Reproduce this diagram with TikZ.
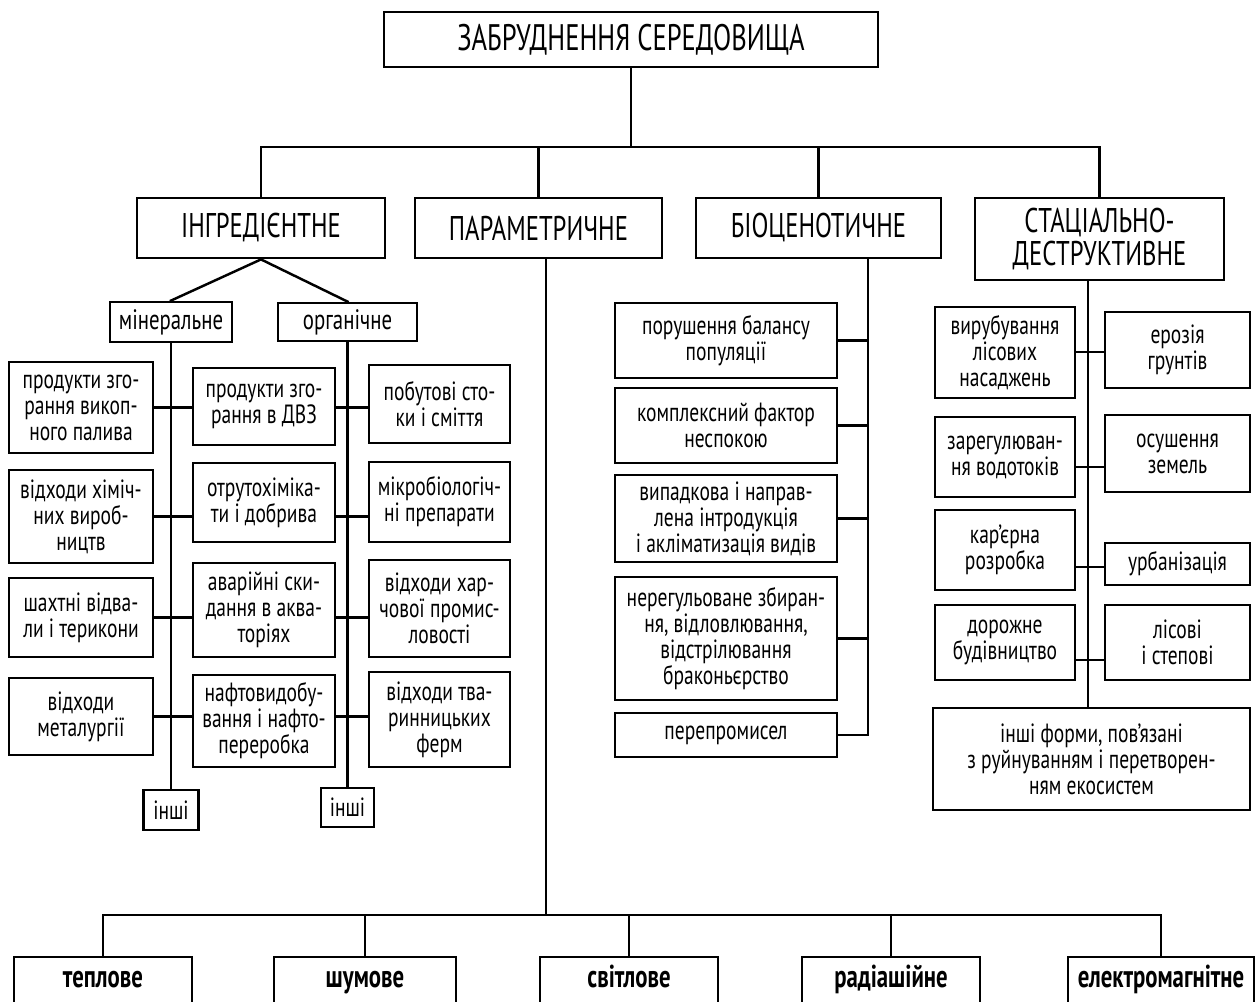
\documentclass[tikz,border=0pt]{standalone}
\usepackage{fontspec}
\setmainfont{PT Sans}
\newfontfamily\bodyfont[FakeStretch=0.74]{PT Sans}
\newfontfamily\headfont[FakeStretch=0.72]{PT Sans}
\usetikzlibrary{calc}

\begin{document}
\begin{tikzpicture}[x=0.02cm, y=-0.02cm,
	box/.style={draw, line width=1.6pt, align=center, inner sep=0pt,
		font=\bodyfont\fontsize{15}{14.8}\selectfont},
	headbox/.style={box, font=\headfont\fontsize{19.5}{18.5}\selectfont},
	subbox/.style={box, font=\bodyfont\fontsize{16}{18}\selectfont},
	lowbox/.style={box, text height=1.6ex, text depth=0.3ex,
		font=\headfont\bfseries\fontsize{18}{20}\selectfont},
	dims/.style 2 args={minimum width=#1*0.02cm, minimum height=#2*0.02cm},
	wire/.style={line width=1.4pt, line cap=rect}]

	% ---- frame

	\fill[white] (0,0) rectangle (1258,1001);
	\useasboundingbox (0,0) rectangle (1258,1001);

	% ---- coordinates

	\coordinate (TB) at (0,147);
	\coordinate (BB) at (0,915);
	\coordinate (PT) at (546,258);
	\coordinate (BT) at (868,258);
	\coordinate (ST) at (1088,280);

	\coordinate (s1) at (0,352);
	\coordinate (s2) at (0,467);
	\coordinate (s3) at (0,567);
	\coordinate (s4) at (0,660);

	% ---- root and kinds

	\node[headbox, dims={494}{55}, font=\headfont\fontsize{21}{22}\selectfont] (Z) at (631,39.5) {ЗАБРУДНЕННЯ СЕРЕДОВИЩА};

	\node[headbox, dims={248}{60}] (I) at (261,228) {ІНГРЕДІЄНТНЕ};
	\node[headbox, dims={247}{60}] (P) at (538.5,228) {ПАРАМЕТРИЧНЕ};
	\node[headbox, dims={245}{60}] (B) at (818.5,228) {БІОЦЕНОТИЧНЕ};
	\node[headbox, dims={249}{82}] (S) at (1099.5,239) {СТАЦІАЛЬНО-\\ДЕСТРУКТИВНЕ};

	% ---- ingredient

	\node[subbox, dims={122}{40}] (Min) at (171,322) {мінеральне};
	\node[subbox, dims={139}{38}] (Org) at (347.5,322) {органічне};

	\node[box, dims={144}{91}] (L1) at (81,407.5) {продукти зго-\\рання викоп-\\ного палива};
	\node[box, dims={144}{93}] (L2) at (81,516.5) {відходи хіміч-\\них вироб-\\ництв};
	\node[box, dims={144}{79}] (L3) at (81,617.5) {шахтні відва-\\ли і терикони};
	\node[box, dims={144}{77}] (L4) at (81,716.5) {відходи\\металургії};

	\node[box, dims={142}{77}] (C1) at (264,406.5) {продукти зго-\\рання в ДВЗ};
	\node[box, dims={142}{79}] (C2) at (264,502.5) {отрутохіміка-\\ти і добрива};
	\node[box, dims={142}{94}] (C3) at (264,610) {аварійні ски-\\дання в аква-\\торіях};
	\node[box, dims={142}{92}] (C4) at (264,721) {нафтовидобу-\\вання і нафто-\\переробка};

	\node[box, dims={141}{78}] (R1) at (439.5,404) {побутові сто-\\ки і сміття};
	\node[box, dims={141}{80}] (R2) at (439.5,502) {мікробіологіч-\\ні препарати};
	\node[box, dims={141}{97}] (R3) at (439.5,608.5) {відходи хар-\\чової промис-\\ловості};
	\node[box, dims={141}{95}] (R4) at (439.5,719.5) {відходи тва-\\ринницьких\\ферм};

	\node[box, dims={55}{40}] (E1) at (171,810) {інші};
	\node[box, dims={53}{39}] (E2) at (347.5,807.5) {інші};

	% ---- biocenotic

	\node[box, dims={222}{75}] (B1) at (726,340.5) {порушення балансу\\популяції};
	\node[box, dims={222}{75}] (B2) at (726,425.5) {комплексний фактор\\неспокою};
	\node[box, dims={222}{87}] (B3) at (726,518.5) {випадкова і направ-\\лена інтродукція\\і акліматизація видів};
	\node[box, dims={222}{123}] (B4) at (726,638.5) {нерегульоване збиран-\\ня, відловлювання,\\відстрілювання\\браконьєрство};
	\node[box, dims={222}{44}] (B5) at (726,735) {перепромисел};

	% ---- stational-destructive

	\node[box, dims={140}{91}] (S1) at (1005,352.5) {вирубування\\лісових\\насаджень};
	\node[box, dims={140}{80}] (S2) at (1005,457) {зарегулюван-\\ня водотоків};
	\node[box, dims={140}{80}] (S3) at (1005,550) {кар’єрна\\розробка};
	\node[box, dims={140}{75}] (S4) at (1005,642.5) {дорожне\\будівництво};

	\node[box, dims={145}{76}] (U1) at (1177.5,350) {ерозія\\грунтів};
	\node[box, dims={145}{77}] (U2) at (1177.5,453.5) {осушення\\земель};
	\node[box, dims={145}{42}] (U3) at (1177.5,564) {урбанізація};
	\node[box, dims={145}{75}] (U4) at (1177.5,642.5) {лісові\\і степові};

	\node[box, dims={317}{102}] (S5) at (1091.5,759) {інші форми, пов’язані\\з руйнуванням і перетворен-\\ням екосистем};

	% ---- parametric

	\node[lowbox, dims={178}{50}] (T1) at (103,982) {теплове};
	\node[lowbox, dims={182}{50}] (T2) at (365,982) {шумове};
	\node[lowbox, dims={178}{50}] (T3) at (629,982) {світлове};
	\node[lowbox, dims={178}{50}] (T4) at (891,982) {радіашійне};
	\node[lowbox, dims={186}{50}] (T5) at (1161,982) {електромагнітне};

	% ---- top bus

	\draw[wire] (Z.south) -- (Z.south |- TB);
	\draw[wire] (I.north |- TB) -- (S.north |- TB);
	\foreach \n in {I,P,B,S} { \draw[wire] (\n.north |- TB) -- (\n.north); }

	% ---- ingredient wires

	\draw[wire] (I.south) -- (Min.north);
	\draw[wire] (I.south) -- (Org.north);
	\draw[wire] (Min.south) -- (E1.north);
	\draw[wire] (Org.south) -- (E2.north);

	\foreach \i in {1,...,4} {
		\draw[wire] (L\i.east) -- (L\i.east -| C\i.west);
		\draw[wire] (L\i.east -| C\i.east) -- (L\i.east -| R\i.west);
	}

	% ---- biocenotic wires

	\draw[wire] (BT) |- (B5.east);
	\foreach \i in {1,...,4} { \draw[wire] (B\i.east) -- (B\i.east -| BT); }

	% ---- stational wires

	\draw[wire] (ST) -- (ST |- S5.north);
	\foreach \i in {1,...,4} { \draw[wire] (S\i.east |- s\i) -- (U\i.west |- s\i); }

	% ---- bottom bus

	\draw[wire] (PT) -- (PT |- BB);
	\draw[wire] (T1.north |- BB) -- (T5.north |- BB);
	\foreach \i in {1,...,5} { \draw[wire] (T\i.north |- BB) -- (T\i.north); }

\end{tikzpicture}
\end{document}
